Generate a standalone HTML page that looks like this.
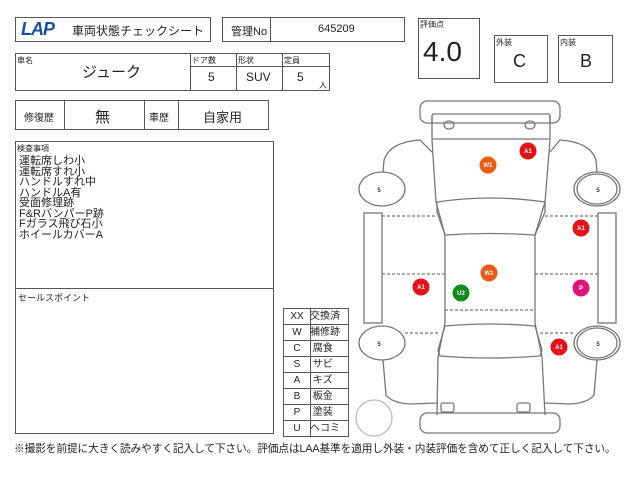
<!DOCTYPE html>
<html><head><meta charset="utf-8"><style>
*{margin:0;padding:0;box-sizing:border-box}
body{width:640px;height:480px;background:#fff;position:relative;overflow:hidden;font-family:"Liberation Sans","Noto Sans CJK JP",sans-serif;color:#222}
.b{position:absolute;border:1.5px solid #555}
.t{position:absolute;white-space:nowrap}
.ln{position:absolute;background:#555}
</style></head><body>
<!-- header -->
<div class="b" style="left:15px;top:17px;width:196px;height:25px"></div>
<div class="t" style="left:21px;top:19px;font-size:18px;font-weight:bold;font-style:italic;color:#1a4fa0;letter-spacing:-1px">LAP</div>
<div class="t" style="left:72px;top:22px;font-size:12px">車両状態チェックシート</div>
<div class="b" style="left:222px;top:17px;width:183px;height:25px"></div>
<div class="ln" style="left:270px;top:17px;width:1px;height:25px"></div>
<div class="t" style="left:231px;top:23px;font-size:11px">管理No</div>
<div class="t" style="left:318px;top:23px;font-size:11px">645209</div>
<div class="b" style="left:418px;top:18px;width:62px;height:61px"></div>
<div class="t" style="left:420px;top:19px;font-size:8px">評価点</div>
<div class="t" style="left:423px;top:36px;font-size:28px">4.0</div>
<div class="b" style="left:494px;top:35px;width:54px;height:48px"></div>
<div class="t" style="left:496px;top:37px;font-size:8px">外装</div>
<div class="t" style="left:513px;top:51px;font-size:18px">C</div>
<div class="b" style="left:558px;top:35px;width:55px;height:48px"></div>
<div class="t" style="left:560px;top:37px;font-size:8px">内装</div>
<div class="t" style="left:580px;top:51px;font-size:18px">B</div>
<!-- car name row -->
<div class="b" style="left:15px;top:53px;width:315px;height:38px"></div>
<div class="t" style="left:17px;top:55px;font-size:8px">車名</div>
<div class="t" style="left:82px;top:61px;font-size:15px">ジューク</div>
<div class="ln" style="left:190px;top:53px;width:1px;height:38px"></div>
<div class="ln" style="left:236px;top:53px;width:1px;height:38px"></div>
<div class="ln" style="left:282px;top:53px;width:1px;height:38px"></div>
<div class="ln" style="left:190px;top:66px;width:140px;height:1px"></div>
<div class="t" style="left:192px;top:55px;font-size:8px">ドア数</div>
<div class="t" style="left:238px;top:55px;font-size:8px">形状</div>
<div class="t" style="left:284px;top:55px;font-size:8px">定員</div>
<div class="t" style="left:208px;top:70px;font-size:12px">5</div>
<div class="t" style="left:246px;top:70px;font-size:12px">SUV</div>
<div class="t" style="left:297px;top:70px;font-size:12px">5</div>
<div class="t" style="left:319px;top:80px;font-size:8px">人</div>
<!-- repair row -->
<div class="b" style="left:15px;top:100px;width:254px;height:30px"></div>
<div class="ln" style="left:64px;top:100px;width:1px;height:30px"></div>
<div class="ln" style="left:144px;top:100px;width:1px;height:30px"></div>
<div class="ln" style="left:178px;top:100px;width:1px;height:30px"></div>
<div class="t" style="left:24px;top:109px;font-size:10px">修復歴</div>
<div class="t" style="left:95px;top:106px;font-size:15px">無</div>
<div class="t" style="left:149px;top:109px;font-size:10px">車歴</div>
<div class="t" style="left:203px;top:107px;font-size:13px">自家用</div>
<!-- inspection -->
<div class="b" style="left:15px;top:141px;width:259px;height:293px"></div>
<div class="ln" style="left:15px;top:288px;width:259px;height:1px"></div>
<div class="t" style="left:17px;top:143px;font-size:8px">検査事項</div>
<div class="t" style="left:19px;top:156px;font-size:11px;line-height:10.5px">運転席しわ小<br>運転席すれ小<br>ハンドルすれ中<br>ハンドルA有<br>受面修理跡<br>F&amp;RバンパーP跡<br>Fガラス飛び石小<br>ホイールカバーA</div>
<div class="t" style="left:18px;top:291px;font-size:9px">セールスポイント</div>
<!-- legend -->
<div class="b" style="left:283px;top:308px;width:66px;height:129px"></div>
<div class="ln" style="left:310px;top:308px;width:1px;height:129px"></div>
<div style="position:absolute;left:284px;top:309px;width:64px;font-size:10px;line-height:15px">
<div style="display:flex;border-bottom:1px solid #555"><span style="width:26px;text-align:center">XX</span><span>交換済</span></div>
<div style="display:flex;border-bottom:1px solid #555"><span style="width:26px;text-align:center">W</span><span>補修跡</span></div>
<div style="display:flex;border-bottom:1px solid #555"><span style="width:26px;text-align:center">C</span><span>&nbsp;腐食</span></div>
<div style="display:flex;border-bottom:1px solid #555"><span style="width:26px;text-align:center">S</span><span>&nbsp;サビ</span></div>
<div style="display:flex;border-bottom:1px solid #555"><span style="width:26px;text-align:center">A</span><span>&nbsp;キズ</span></div>
<div style="display:flex;border-bottom:1px solid #555"><span style="width:26px;text-align:center">B</span><span>&nbsp;板金</span></div>
<div style="display:flex;border-bottom:1px solid #555"><span style="width:26px;text-align:center">P</span><span>&nbsp;塗装</span></div>
<div style="display:flex"><span style="width:26px;text-align:center">U</span><span>ヘコミ</span></div>
</div>
<div class="t" style="left:14px;top:441px;font-size:10.7px;letter-spacing:-0.1px">※撮影を前提に大きく読みやすく記入して下さい。評価点はLAA基準を適用し外装・内装評価を含めて正しく記入して下さい。</div>
<!-- car -->
<svg style="position:absolute;left:0;top:0" width="640" height="480" viewBox="0 0 640 480" fill="none" stroke="#777" stroke-width="1.3">
<rect x="420" y="101" width="140" height="22" rx="7"/>
<path d="M432 123 V116 Q432 114 434 114 H548 Q550 114 550 116 V123"/>
<ellipse cx="449" cy="125" rx="5" ry="4"/><ellipse cx="530" cy="125" rx="5" ry="4"/>
<path d="M432 115 L432 140 L436 202 L445 235 L445 323 L438 357 L437 415"/>
<path d="M550 115 L550 140 L545 202 L535 235 L535 323 L542 357 L545 415"/>
<line x1="432" y1="139" x2="550" y2="139"/>
<path d="M437 202 Q490 194 545 202 L545 212 L535 235 Q490 232 445 235 L437 212 Z"/>
<path d="M445 326 Q490 322 535 326 L542 350 L540 356 Q490 360 440 356 L438 350 Z"/>
<rect x="420" y="413" width="140" height="20" rx="7"/>
<rect x="441" y="403" width="13" height="9" rx="2"/><rect x="517" y="403" width="13" height="9" rx="2"/>
<path d="M432 152 L420 140 Q390 142 384 160 L383 172"/>
<path d="M550 152 L560 140 Q590 142 596 160 L597 172"/>
<path d="M383 360 L386 395 Q392 403 410 404 L437 403"/>
<path d="M597 360 L594 395 Q588 403 570 404 L545 403"/>
<rect x="364" y="213" width="18" height="110"/><rect x="598" y="213" width="18" height="110"/>
<g stroke-dasharray="3,2">
<line x1="382" y1="216" x2="436" y2="216"/><line x1="545" y1="216" x2="598" y2="216"/>
<line x1="382" y1="274" x2="445" y2="274"/><line x1="535" y1="274" x2="598" y2="274"/>
<line x1="445" y1="310" x2="535" y2="310"/>
<line x1="405" y1="333" x2="440" y2="333"/><line x1="540" y1="333" x2="575" y2="333"/>
</g>
<g fill="#fff">
<ellipse cx="382" cy="189" rx="23" ry="17"/><ellipse cx="597" cy="189" rx="23" ry="17"/>
<ellipse cx="382" cy="343" rx="23" ry="17"/><ellipse cx="597" cy="343" rx="23" ry="17"/>
</g>
<ellipse cx="597" cy="189" rx="20" ry="15"/><ellipse cx="597" cy="343" rx="20" ry="15"/>
<circle cx="374" cy="418" r="18" stroke="#bbb"/>
<g stroke="none" font-size="6" font-weight="bold" text-anchor="middle" font-family="Liberation Sans,sans-serif">
<text x="379" y="192" fill="#333">5</text><text x="598" y="192" fill="#333">5</text>
<text x="379" y="346" fill="#333">5</text><text x="598" y="346" fill="#333">5</text>
<circle cx="528" cy="151" r="8.5" fill="#e3121b"/><text x="528" y="153" fill="#fff">A1</text>
<circle cx="488" cy="165" r="8.5" fill="#ec5a14"/><text x="488" y="167" fill="#fff">W1</text>
<circle cx="581" cy="228" r="8.5" fill="#e3121b"/><text x="581" y="230" fill="#fff">A1</text>
<circle cx="489" cy="273" r="8.5" fill="#ec5a14"/><text x="489" y="275" fill="#fff">W1</text>
<circle cx="421" cy="287" r="8.5" fill="#e3121b"/><text x="421" y="289" fill="#fff">A1</text>
<circle cx="461" cy="293" r="8.5" fill="#148a1e"/><text x="461" y="295" fill="#fff">U2</text>
<circle cx="581" cy="288" r="8.5" fill="#e0137a"/><text x="581" y="290" fill="#fff">P</text>
<circle cx="559" cy="347" r="8.5" fill="#e3121b"/><text x="559" y="349" fill="#fff">A1</text>
</g>
</svg>
</body></html>
